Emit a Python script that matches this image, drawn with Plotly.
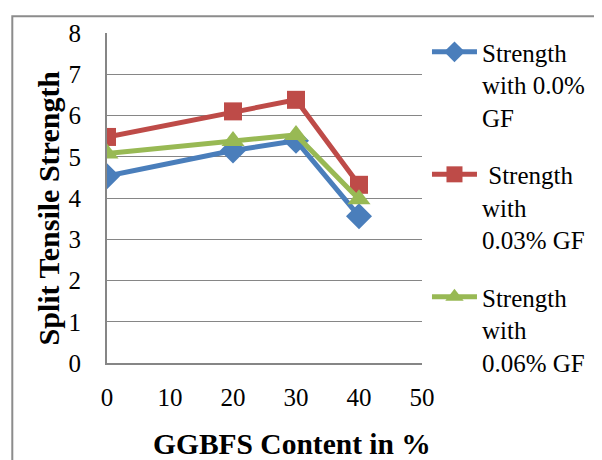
import plotly.graph_objects as go

ggbfs = [0, 20, 30, 40]
s_00 = [4.53, 5.15, 5.39, 3.56]
s_03 = [5.48, 6.10, 6.38, 4.32]
s_06 = [5.08, 5.38, 5.53, 3.97]
names = ["Strength<br>with 0.0%<br>GF", "\u00a0Strength<br>with<br>0.03% GF", "Strength<br>with<br>0.06% GF"]
colors = ["#4A7EBB", "#BE4B48", "#98B954"]
symbols = ["diamond", "square", "triangle-up"]
sizes = [20, 18, 20]

FONT = "Liberation Serif, Times New Roman, serif"
fig = go.Figure()
for i, (ys, nm, c, sym, sz) in enumerate(zip([s_00, s_03, s_06], names, colors, symbols, sizes)):
    fig.add_trace(go.Scatter(x=ggbfs, y=ys, name=nm, mode="lines+markers", legendgroup="g%d" % i,
                             line=dict(color=c, width=5),
                             marker=dict(symbol=sym, size=sz, color=c)))

OFF = 8  # page body margin
W, H = 602 - OFF, 460 - OFF
L, R, T, B = 107 - OFF, 179, 26 - OFF, 97
pw, ph = W - L - R, H - T - B
def px2x(px): return (px - OFF - L) / pw
def py2y(py): return (H - B - (py - OFF)) / ph

fig.update_layout(
    width=W, height=H, margin=dict(l=L, r=R, t=T, b=B),
    paper_bgcolor="white", plot_bgcolor="white",
    font=dict(family=FONT, color="black", size=22),
    xaxis=dict(range=[0, 50], dtick=10, showgrid=False, zeroline=False,
               showline=True, linecolor="#868686", linewidth=2,
               ticks="outside", ticklen=11, tickcolor="rgba(0,0,0,0)",
               tickfont=dict(family=FONT, size=25)),
    yaxis=dict(range=[0, 8], dtick=1, showgrid=True, gridcolor="#868686", gridwidth=1.3,
               zeroline=False, showline=True, linecolor="#868686", linewidth=2,
               ticks="outside", ticklen=19, tickcolor="rgba(0,0,0,0)",
               tickfont=dict(family=FONT, size=25)),
    legend=dict(x=px2x(428), xanchor="left", y=py2y(22), yanchor="top",
                font=dict(family=FONT, size=25), valign="top", itemwidth=45,
                tracegroupgap=22, bgcolor="rgba(0,0,0,0)", maxheight=440),
    showlegend=True,
    annotations=[
        dict(text="<b>Split Tensile Strength</b>", xref="paper", yref="paper",
             x=px2x(48), y=py2y(205), textangle=-90, showarrow=False,
             font=dict(family=FONT, size=30), xanchor="center", yanchor="middle"),
        dict(text="<b>GGBFS Content in %</b>", xref="paper", yref="paper",
             x=px2x(293), y=py2y(446), showarrow=False,
             font=dict(family=FONT, size=29.5), xanchor="center", yanchor="middle"),
    ],
    shapes=[dict(type="rect", xref="paper", yref="paper",
                 x0=px2x(12), x1=px2x(598), y0=py2y(470), y1=py2y(9),
                 line=dict(color="#8C8C8C", width=2), layer="below")],
)
fig.write_html("out.html")
